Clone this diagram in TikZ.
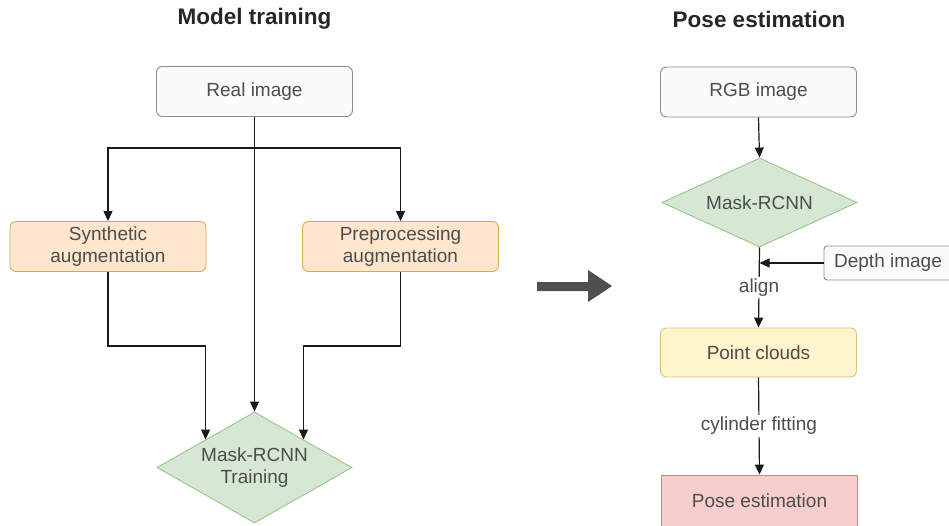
\documentclass[tikz,border=0pt]{standalone}
\usepackage{fontspec}
\setmainfont{Liberation Sans}
\usetikzlibrary{shapes.geometric,arrows.meta,calc}
\definecolor{txt}{HTML}{4D4D4D}
\definecolor{gstroke}{HTML}{8C8C8C}
\definecolor{gfill}{HTML}{FBFBFB}
\definecolor{ofill}{HTML}{FFE6CC}
\definecolor{ostroke}{HTML}{DDAA55}
\definecolor{yfill}{HTML}{FFF4CC}
\definecolor{ystroke}{HTML}{D9C27A}
\definecolor{rfill}{HTML}{F8CECC}
\definecolor{rstroke}{HTML}{C08A88}
\definecolor{dfill}{HTML}{D5E8D4}
\definecolor{dstroke}{HTML}{9CC48A}
\definecolor{bigc}{HTML}{4F4F4F}
\begin{document}
\begin{tikzpicture}[x=1pt,y=-1pt,
  font=\fontsize{19}{22}\selectfont,
  every node/.style={text=txt},
  boxbase/.style={rectangle, rounded corners=6pt, minimum width=196pt, minimum height=50pt, align=center, inner sep=0pt, line width=0.9pt},
  gbox/.style={boxbase, draw=gstroke, fill=gfill},
  obox/.style={boxbase, draw=ostroke, fill=ofill},
  ybox/.style={boxbase, draw=ystroke, fill=yfill},
  rbox/.style={boxbase, rounded corners=0pt, draw=rstroke, fill=rfill},
  gdia/.style={diamond, draw=dstroke, fill=dfill, align=center, inner sep=0pt, line width=0.9pt},
  titlenode/.style={font=\fontsize{22.5}{26}\selectfont\bfseries, text=black!85},
  arr/.style={draw=black!90, line width=1.2pt, -{Triangle[length=10pt,width=9pt]}},
  lbl/.style={fill=white, inner sep=2pt}
]
\useasboundingbox (0,0) rectangle (949,525);

\node[titlenode] (t1) at (254.5,19) {Model training};
\node[titlenode] (t2) at (759,19) {Pose estimation};

% left: model training
\node[gbox] (real) at (254.5,91.5) {Real image};
\node[obox] (syn) at (108,246.5) {Synthetic\\augmentation};
\node[obox] (pre) at (400.5,246.5) {Preprocessing\\augmentation};
\node[gdia, minimum width=195pt, minimum height=111pt, aspect=1.757] (mt) at (254.5,467.5) {Mask-RCNN\\Training};

\coordinate (br) at (254.5,148);
\draw[arr] (real.south) -- (mt.north);
\draw[arr] (br) -| (syn.north);
\draw[arr] (br) -| (pre.north);
\draw[arr] (syn.south) -- ++(0,74) -| (mt.north west);
\draw[arr] (pre.south) -- ++(0,74) -| (mt.north east);

% big arrow
\fill[bigc] (537,282) -- (588,282) -- (588,270) -- (612,286) -- (588,302) -- (588,291) -- (537,291) -- cycle;

% right: pose estimation
\node[gbox] (rgb) at (758.5,92) {RGB image};
\node[gdia, minimum width=195pt, minimum height=89pt, aspect=2.19] (mr) at (759.5,202.5) {Mask-RCNN};
\node[gbox, minimum width=128pt, minimum height=34pt, rounded corners=3pt] (depth) at (888,263) {Depth image};
\node[ybox, minimum height=49pt] (pc) at (758.5,352.5) {Point clouds};
\node[rbox, minimum height=51pt] (pe) at (759.5,500.5) {Pose estimation};

\coordinate (join) at (mr.south |- depth.west);
\draw[arr] (rgb.south) -- (mr.north);
\draw[arr] (depth.west) -- (join);
\draw[arr] (mr.south) -- node[lbl, pos=0.5] {align} (pc.north);
\draw[arr] (pc.south) -- node[lbl, pos=0.5] {cylinder fitting} (pe.north);
\end{tikzpicture}
\end{document}
